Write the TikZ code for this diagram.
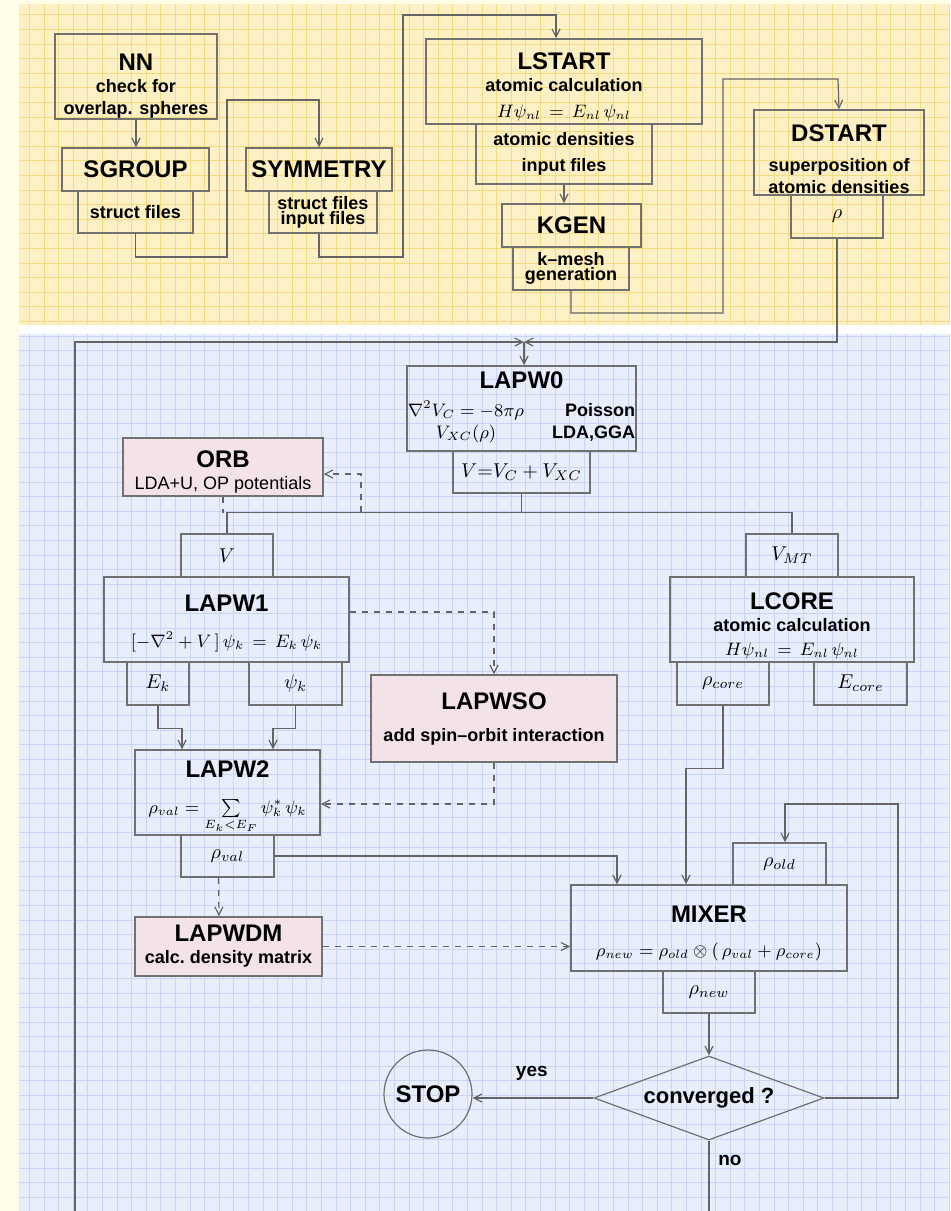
\documentclass[tikz,border=0pt]{standalone}
\usepackage{amsmath}
\usepackage{fontspec}
\setmainfont{Liberation Sans}
\usepackage{tikz}
\usetikzlibrary{shapes.geometric}
\usetikzlibrary{arrows.meta}
\usetikzlibrary{positioning}

\definecolor{pagebg}{RGB}{255,253,234}
\definecolor{topbg}{RGB}{253,240,196}
\definecolor{topgrid}{RGB}{244,218,128}
\definecolor{botbg}{RGB}{232,238,252}
\definecolor{botgrid}{RGB}{200,213,246}
\definecolor{boxline}{RGB}{112,112,112}
\definecolor{wiregray}{RGB}{100,100,100}
\definecolor{orbpink}{RGB}{243,227,232}

\newcommand{\ttl}[1]{{\fontsize{12}{14}\selectfont\bfseries #1}}
\newcommand{\topgap}[1]{\rule{0pt}{#1}}

\begin{document}
\begin{tikzpicture}[x=0.5pt, y=-0.5pt,
  box/.style={draw=boxline, line width=0.75pt, inner sep=0pt, align=center, font=\fontsize{9}{11}\selectfont\bfseries},
  tightbox/.style={box, font=\fontsize{9}{7.5}\selectfont\bfseries},
  mbox/.style={box, font=\fontsize{10}{12}\selectfont},
  pbox/.style={box, fill=orbpink},
  conn/.style={draw=wiregray, line width=0.6pt},
  arr/.style={conn, -{Straight Barb[length=4pt,width=4pt]}},
  darr/.style={arr, dashed},
  lbl/.style={font=\fontsize{9.5}{11}\selectfont\bfseries}]
\useasboundingbox (0,0) rectangle (950,1211);
\fill[pagebg] (0,0) rectangle (950,1211);
\fill[topbg] (19,4) rectangle (950,325);
\draw[topgrid, line width=0.3pt, step=7.3pt] (19,4) grid (950,325);
\fill[white] (19,325) rectangle (950,334);
\fill[botbg] (19,334) rectangle (950,1211);
\draw[botgrid, line width=0.3pt, step=7.3pt] (19,334) grid (950,1211);

\node[box, minimum width=81pt, minimum height=42.5pt] (nn) at (136,76.5) {\topgap{18pt}\ttl{NN}\\check for\\overlap. spheres};
\node[box, minimum width=73.5pt, minimum height=21.5pt] (sgroup) at (135.5,169.5) {\ttl{SGROUP}};
\node[box, minimum width=57.5pt, minimum height=21pt] (sgfiles) at (135.5,212) {struct files};
\node[box, minimum width=73pt, minimum height=21.5pt] (symmetry) at (319,169.5) {\ttl{SYMMETRY}};
\node[tightbox, minimum width=54pt, minimum height=21pt] (symfiles) at (323,212) {struct files\\input files};
\node[box, minimum width=138pt, minimum height=42.5pt] (lstart) at (564,81.5) {\topgap{14pt}\ttl{LSTART}\\atomic calculation\\[2pt]\mdseries$H\psi_{nl}\,=\,E_{nl}\,\psi_{nl}$};
\node[box, minimum width=88pt, minimum height=30pt] (ldens) at (564,154) {atomic densities\\[2pt]input files};
\node[box, minimum width=69.5pt, minimum height=21.5pt] (kgen) at (571.5,225.5) {\ttl{KGEN}};
\node[tightbox, minimum width=58pt, minimum height=21.5pt] (kmesh) at (571,268.5) {k--mesh\\generation};
\node[box, minimum width=85pt, minimum height=42.5pt] (dstart) at (839,152.5) {\topgap{15pt}\ttl{DSTART}\\[4pt]superposition of\\atomic densities};
\node[mbox, minimum width=46pt, minimum height=21.5pt] (drho) at (837,216.5) {$\rho$};

\node[box, minimum width=114.5pt, minimum height=42.5pt] (lapw0) at (521.5,408.5) {\ttl{LAPW0}\\[3pt]\begin{tabular}[t]{@{}c@{\hspace{14pt}}r@{}}\mdseries$\nabla^2V_C=-8\pi\rho$ & Poisson\\ \mdseries$V_{XC}(\rho)$ & LDA,GGA\end{tabular}};
\node[mbox, minimum width=68.5pt, minimum height=21pt] (v0) at (521.5,472) {$V{=}V_C+V_{XC}$};
\node[pbox, minimum width=100pt, minimum height=29pt] (orb) at (223,467) {\topgap{13pt}\ttl{ORB}\\{\mdseries LDA+U, OP potentials}};
\node[mbox, minimum width=46pt, minimum height=21.5pt] (v1) at (227,555.5) {$V$};
\node[box, minimum width=122.5pt, minimum height=42.5pt] (lapw1) at (226.5,619.5) {\topgap{12pt}\ttl{LAPW1}\\[7pt]\mdseries$[-\nabla^2+V\,]\,\psi_k\,=\,E_k\,\psi_k$};
\node[mbox, minimum width=31pt, minimum height=21.5pt] (ek) at (158,683.5) {$E_k$};
\node[mbox, minimum width=46.5pt, minimum height=21.5pt] (psik) at (295.5,683.5) {$\psi_k$};
\node[box, minimum width=92.5pt, minimum height=42.5pt] (lapw2) at (227.5,792.5) {\topgap{13pt}\ttl{LAPW2}\\[7pt]\mdseries$\rho_{val}=\sum\limits_{E_k<E_F}\psi_k^*\,\psi_k$};
\node[mbox, minimum width=46.5pt, minimum height=21pt] (rhoval) at (227.5,856) {$\rho_{val}$};
\node[pbox, minimum width=93.5pt, minimum height=29.5pt] (lapwdm) at (228.5,946.5) {\ttl{LAPWDM}\\calc.\ density matrix};
\node[pbox, minimum width=123pt, minimum height=43.5pt] (lapwso) at (494,718.5) {\ttl{LAPWSO}\\[5pt]add spin--orbit interaction};
\node[mbox, minimum width=46pt, minimum height=21.5pt] (vmt) at (792,555.5) {$V_{MT}$};
\node[box, minimum width=122pt, minimum height=42.5pt] (lcore) at (792,619.5) {\topgap{15pt}\ttl{LCORE}\\atomic calculation\\[1pt]\mdseries$H\psi_{nl}\,=\,E_{nl}\,\psi_{nl}$};
\node[mbox, minimum width=46pt, minimum height=21.5pt] (rhocore) at (723,683.5) {$\rho_{core}$};
\node[mbox, minimum width=46.5pt, minimum height=21.5pt] (ecore) at (860.5,683.5) {$E_{core}$};
\node[mbox, minimum width=46.5pt, minimum height=21pt] (rhoold) at (779.5,864) {$\rho_{old}$};
\node[box, minimum width=138pt, minimum height=43pt] (mixer) at (709,928) {\topgap{14pt}\ttl{MIXER}\\[6pt]\mdseries$\rho_{new}=\rho_{old}\otimes(\,\rho_{val}+\rho_{core})$};
\node[mbox, minimum width=46pt, minimum height=21pt] (rhonew) at (709,992) {$\rho_{new}$};
\node[draw=boxline, line width=0.6pt, diamond, aspect=2.7, inner sep=0pt, minimum width=115pt, minimum height=42pt, font=\fontsize{11}{13}\selectfont\bfseries] (conv) at (709,1098) {converged ?};
\node[draw=boxline, line width=0.6pt, circle, inner sep=0pt, minimum size=44pt] (stop) at (428,1094) {\ttl{STOP}};

\coordinate (j0) at (524,342);
\coordinate (loopin) at (75,1211);
\coordinate (loopout) at (709,1211);
\coordinate (orbtap) at (361,512);

\draw[arr] (nn.south) -- (nn.south |- sgroup.north);
\draw[arr] (sgfiles.south) |- (227,257) |- (319,100) -- (symmetry.north);
\draw[arr] (symmetry |- symfiles.south) |- (403,257) |- (556,15) -- ([xshift=-4pt]lstart.north);
\draw[arr] (ldens.south) -- (ldens.south |- kgen.north);
\draw[arr] (kmesh.south) |- (723,313) |- (838,79) -- (dstart.north);
\draw[arr] (drho.south) |- (j0);
\draw[arr] (loopin) |- (j0);
\draw[arr] (j0) -- (j0 |- lapw0.north);
\draw[conn] (v0.south) -- ++(0,19) coordinate (split);
\draw[conn] (split) -| (v1.north);
\draw[conn] (split) -| (vmt.north);
\draw[conn, dashed] (orb.south) -- (orb.south |- split);
\draw[darr] (orbtap) |- ([yshift=-3.5pt]orb.east);
\draw[darr] ([yshift=3.75pt]lapw1.east) -| (lapwso.north);
\draw[arr] (ek.south) -- ++(0,23) -| ([xshift=-22.75pt]lapw2.north);
\draw[arr] (psik.south) -- ++(0,23) -| ([xshift=22.75pt]lapw2.north);
\draw[darr] (lapwso.south) |- ([yshift=-5.75pt]lapw2.east);
\draw[arr] (rhoval.east) -| ([xshift=-46pt]mixer.north);
\draw[darr] ([xshift=-4.5pt]rhoval.south) -- ([xshift=-4.75pt]lapwdm.north);
\draw[darr] (lapwdm.east) -- (lapwdm.east -| mixer.west);
\draw[arr] (rhocore.south) -- ++(0,63) -| ([xshift=-11.5pt]mixer.north);
\draw[arr] (rhonew.south) -- (conv.north);
\draw[arr] (conv.west) -- (stop.east |- conv.west) node[lbl, pos=0.51, above=5pt] {yes};
\draw[arr] (conv.east) -| (898,804) -| ([xshift=2.75pt]rhoold.north);
\draw[conn] (conv.south) -- (loopout) node[lbl, pos=0.28, right=1pt] {no};
\end{tikzpicture}
\end{document}
